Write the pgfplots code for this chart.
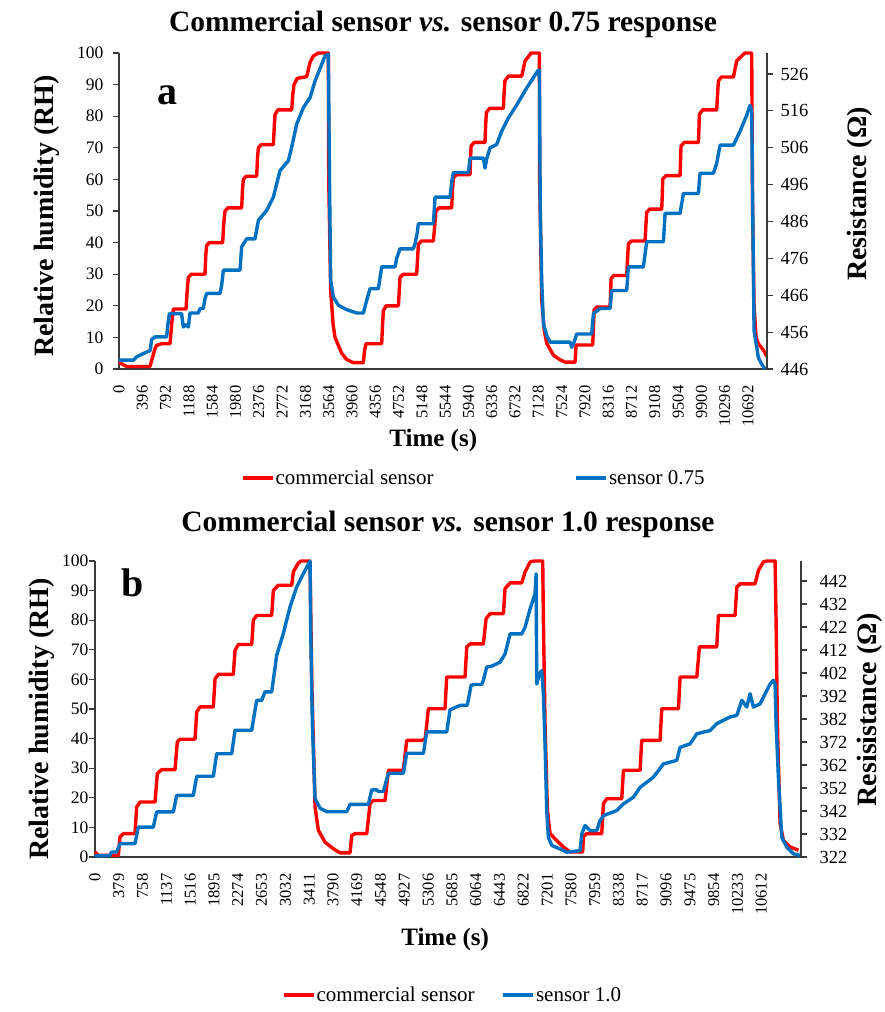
\documentclass[border=0pt]{standalone}
\usepackage{fontspec}
\setmainfont{Liberation Serif}
\usepackage{pgfplots}
\pgfplotsset{compat=1.18}

\definecolor{rhred}{HTML}{FF0000}
\definecolor{resblue}{HTML}{0070C0}
\definecolor{axisgray}{HTML}{3A3A3A}

\pgfplotsset{
  base/.style={
    scale only axis, clip=false, xmin=0, scaled ticks=false,
    axis line style={axisgray, line width=1.2pt},
    tick style={axisgray, line width=1.2pt},
    major tick length=6pt, tick align=outside,
    /pgf/number format/assume math mode=true,
    /pgf/number format/1000 sep={},
    ylabel style={font=\bfseries\fontsize{28}{30}\selectfont, anchor=center},
  },
  leftax/.style={base, ymin=0, ymax=100, ytick={0,10,...,100},
    axis x line*=bottom, axis y line*=left,
    xtick style={draw=none},
    yticklabel style={font=\fontsize{17.5}{18}\selectfont},
    xticklabel shift=7pt,
    xticklabel style={rotate=90, anchor=east, font=\fontsize{16.5}{17}\selectfont},
    xlabel style={font=\bfseries\fontsize{25}{27}\selectfont, anchor=center},
    title style={font=\bfseries\fontsize{29.5}{31}\selectfont, at={(axis description cs:0.5,1)}, anchor=south, inner sep=0pt},
  },
  rightax/.style={base, axis x line=none, axis y line*=right,
    yticklabel style={font=\fontsize{18.5}{19}\selectfont},
    legend style={draw=none, fill=none, anchor=center, legend columns=2,
      font=\fontsize{21}{22}\selectfont, nodes={inner sep=1pt}},
    legend image code/.code={\draw[#1] (0pt,0pt) -- (30pt,0pt);},
  },
  rh/.style={rhred, line width=3.4pt, line join=round},
  res/.style={resblue, line width=3.4pt, line join=round},
}

\begin{document}
\begin{tikzpicture}
\useasboundingbox (0pt,0pt) rectangle (884pt,-1012pt);

% ---------------- panel a ----------------
\begin{axis}[leftax, at={(119pt,-369pt)}, anchor=south west,
  width=648pt, height=316pt, xmax=11015,
  xtick={0,396,...,10692},
  yticklabel style={xshift=-6pt},
  xlabel={Time (s)}, xlabel style={at={(axis description cs:0.485,-0.225)}},
  ylabel={Relative humidity (RH)}, ylabel style={at={(axis description cs:-0.111,0.484)}},
  title={Commercial sensor \textit{vs.} sensor 0.75 response}, title style={yshift=9pt}]
\addplot[rh] coordinates {
(0,2)(60,1.5)(130,0.8)(527,0.8)(560,3)(612,6.5)(640,7.5)(725,8)(867,8)(900,15)(924,19)(1139,19)
(1160,25)(1179,29)(1230,30)(1462,30)(1475,36)(1490,39)(1530,40)(1762,40)(1780,46)(1802,50)
(1850,51)(2085,51)(2100,57)(2114,60)(2160,61)(2340,61)(2355,67)(2369,70)(2420,71)(2624,71)
(2640,77)(2652,80.5)(2700,82)(2935,82)(2955,87)(2975,90)(3030,92)(3190,92.5)(3247,97)(3300,99)
(3389,100)(3559,100)(3565,60)(3598,25)(3640,14)(3672,10)(3785,5)(3870,3)(3984,2)(4154,2)
(4175,6)(4199,8)(4465,8)(4480,14)(4494,18.5)(4540,20)(4749,20)(4765,25)(4777,29)(4830,30)
(5060,30)(5075,35)(5089,39.5)(5140,40.5)(5344,40.5)(5370,46)(5389,50)(5440,51)(5655,51)
(5670,57)(5684,60.5)(5740,61.5)(5967,61.5)(5975,66)(5985,70.6)(6040,71.7)(6222,71.7)(6232,77)
(6245,81.2)(6300,82.5)(6534,82.5)(6545,87)(6560,91.2)(6620,92.7)(6846,92.7)(6902,97.5)
(6987,99.5)(7000,100)(7146,100)(7150,60)(7185,22)(7230,12)(7271,8.1)(7384,4.4)(7497,2.9)
(7582,2.2)(7752,2.2)(7762,5)(7769,7.6)(8052,7.6)(8065,13)(8075,18.6)(8120,19.6)(8347,19.6)
(8357,24)(8364,28.6)(8410,29.6)(8630,29.6)(8645,35)(8659,39.6)(8710,40.5)(8942,40.5)(8955,45)
(8970,49.6)(9020,50.6)(9225,50.6)(9235,55)(9242,60.1)(9300,61.2)(9537,61.2)(9545,66)(9554,70.6)
(9610,71.7)(9849,71.7)(9858,76)(9865,80.6)(9920,82)(10160,82)(10175,87)(10189,91.2)(10240,92.4)
(10444,92.4)(10500,97.5)(10614,99.6)(10640,100)(10755,100)(10770,50)(10795,20)(10830,10)
(10868,8)(10954,6)(11010,4)
};
\node[font=\bfseries\fontsize{40}{42}\selectfont] at (axis description cs:0.0756,0.867) {a};
\end{axis}

\begin{axis}[rightax, at={(119pt,-369pt)}, anchor=south west,
  width=648pt, height=316pt, xmax=11015, ymin=446, ymax=531.7,
  ytick={446,456,...,526},
  yticklabel style={xshift=4pt},
  ylabel={Resistance (Ω)}, ylabel style={at={(axis description cs:1.1435,0.554)}},
  legend style={at={(axis description cs:0.547,-0.345)},
    /tikz/every even column/.append style={column sep=140pt}}]
\addlegendimage{rh}
\addlegendentry{commercial sensor}
\addplot[res] coordinates {
(0,448.4)(244,448.4)(300,449.3)(442,450.4)(530,451)(555,454)(612,454.7)(810,454.7)(830,458)
(856,461)(1065,461)(1080,459)(1094,457.4)(1140,458)(1179,457.4)(1207,461.2)(1349,461.2)
(1377,462.4)(1434,462.4)(1460,465)(1490,466.5)(1717,466.5)(1745,468.7)(1774,472.8)(2057,472.8)
(2085,479.1)(2170,481.3)(2312,481.3)(2369,486.3)(2510,489)(2624,492.6)(2737,499.8)(2879,502.5)
(2935,506.1)(3020,512.4)(3134,516.9)(3247,519.6)(3332,524.1)(3445,528.6)(3502,530.9)
(3559,531.3)(3576,500)(3598,470.1)(3644,465.5)(3729,463.3)(3870,462.1)(4040,461.2)(4154,461.2)
(4210,464.6)(4267,467.8)(4409,467.8)(4465,473.7)(4692,473.7)(4720,476)(4777,478.6)(5003,478.6)
(5032,480)(5070,483)(5089,485.4)(5344,485.4)(5372,492.6)(5627,492.6)(5655,496.6)(5684,499.3)
(5939,499.3)(5967,503.2)(6194,503.2)(6222,500.5)(6250,503)(6307,506)(6420,506.9)(6505,510.5)
(6619,514.1)(6760,517.6)(6930,522.2)(7072,525.7)(7129,527.1)(7146,527)(7160,490)(7185,470)
(7214,458.3)(7271,455.1)(7327,453.3)(7667,453.3)(7695,451.9)(7730,453)(7780,455.5)(8035,455.5)
(8064,461)(8177,462.4)(8347,462.4)(8376,467.3)(8630,467.3)(8659,473.7)(8914,473.7)(8970,480.5)
(9254,480.5)(9282,488.2)(9537,488.2)(9594,493.6)(9849,493.6)(9877,499.1)(10104,499.1)
(10160,501.8)(10217,506.7)(10444,506.7)(10557,510.5)(10670,514.8)(10727,517.5)(10755,516)
(10772,490)(10795,456.4)(10868,449.1)(10925,447.3)(10982,446)
};
\addlegendentry{sensor 0.75}
\end{axis}

% ---------------- panel b ----------------
\begin{axis}[leftax, at={(95pt,-857pt)}, anchor=south west,
  width=706pt, height=296pt, xmax=11245,
  xtick={0,379,...,10612},
  yticklabel style={xshift=3pt},
  xlabel={Time (s)}, xlabel style={at={(axis description cs:0.496,-0.280)}},
  ylabel={Relative humidity (RH)}, ylabel style={at={(axis description cs:-0.075,0.466)}},
  title={Commercial sensor \textit{vs.} sensor 1.0 response}, title style={yshift=17pt}]
\addplot[rh] coordinates {
(0,1.7)(53,0.6)(372,0.6)(398,6.8)(451,7.9)(637,7.9)(664,16.9)(717,18.6)(956,18.6)(993,28.2)
(1062,29.5)(1274,29.5)(1311,38.9)(1354,39.8)(1593,39.8)(1620,49)(1673,50.7)(1885,50.7)
(1912,60.2)(1965,61.7)(2204,61.7)(2230,69.8)(2283,71.8)(2496,71.8)(2522,80)(2575,81.6)
(2814,81.6)(2841,90.1)(2920,91.8)(3133,91.8)(3159,96.3)(3239,99.3)(3280,100)(3425,100)
(3452,60)(3505,16.9)(3558,9)(3664,5)(3797,2.8)(3903,1.4)(4062,1.4)(4089,7.3)(4142,7.9)
(4328,7.9)(4381,18)(4434,19.1)(4620,19.1)(4673,29.3)(4912,29.3)(4965,39.4)(5204,39.4)
(5260,40)(5310,50.1)(5575,50.1)(5602,60.8)(5894,60.8)(5921,71)(5974,72)(6186,72)(6229,80.5)
(6292,82.2)(6505,82.2)(6531,90.7)(6611,92.6)(6797,92.6)(6850,96.3)(6930,99.7)(7000,100)
(7131,100)(7142,80)(7168,45)(7205,16)(7248,7.9)(7354,5.6)(7460,3.4)(7567,1.7)(7768,1.7)
(7779,6.8)(7832,7.9)(8071,7.9)(8098,18)(8151,19.7)(8390,19.7)(8417,29.3)(8682,29.3)
(8708,39.4)(9001,39.4)(9027,50.1)(9293,50.1)(9319,60.8)(9585,60.8)(9627,71)(9903,71)
(9930,81.6)(10195,81.6)(10222,91.2)(10275,92.3)(10514,92.3)(10567,96.8)(10646,99.7)(10700,100)
(10832,100)(10848,80)(10869,45)(10912,11.3)(10965,5.6)(11071,3.4)(11204,2.3)
};
\node[font=\bfseries\fontsize{40}{42}\selectfont] at (axis description cs:0.0538,0.926) {b};
\end{axis}

\begin{axis}[rightax, at={(95pt,-857pt)}, anchor=south west,
  width=706pt, height=296pt, xmax=11245, ymin=322, ymax=450.7,
  ytick={322,332,...,442},
  yticklabel style={xshift=9pt},
  ylabel={Resisistance (Ω)}, ylabel style={at={(axis description cs:1.098,0.497)}},
  legend style={at={(axis description cs:0.506,-0.466)},
    /tikz/every even column/.append style={column sep=26pt}}]
\addlegendimage{rh}
\addlegendentry{commercial sensor}
\addplot[res] coordinates {
(0,322.5)(239,322.7)(266,324.2)(345,324.2)(398,327.8)(637,327.8)(690,335)(929,335)(982,341.6)
(1248,341.6)(1301,348.8)(1566,348.8)(1620,357.1)(1885,357.1)(1938,366.9)(2177,366.9)
(2230,377.1)(2496,377.1)(2575,390.1)(2655,390.1)(2708,393.8)(2814,393.8)(2894,409.7)
(2999,419.1)(3106,430.7)(3212,439.4)(3345,446.6)(3425,450.7)(3436,420)(3462,380)(3505,347.5)
(3585,343.2)(3691,341.7)(4009,341.7)(4062,344.9)(4354,344.9)(4407,351.2)(4487,351.2)
(4514,350.5)(4593,350.5)(4673,358.4)(4912,358.4)(4965,367.1)(5231,367.1)(5284,376.4)
(5602,376.4)(5655,386)(5814,387.9)(5930,388)(5990,396.6)(6027,397)(6160,397)(6186,398.8)
(6239,404.6)(6319,405)(6452,406.7)(6531,410.3)(6611,419)(6797,419)(6850,421.9)(6930,429.9)
(7009,436.4)(7025,445.1)(7036,397.2)(7078,401.6)(7115,403)(7142,392.9)(7168,371.2)(7195,342.2)
(7221,330.6)(7275,327)(7407,325.5)(7513,324.1)(7726,324.8)(7752,332)(7805,335.7)(7885,333.5)
(7991,333.5)(8044,337.8)(8098,340)(8310,342.2)(8417,345.1)(8576,348)(8682,352.3)(8894,356.7)
(9054,362.5)(9266,364)(9319,369.7)(9479,371.2)(9585,375.6)(9797,377)(9903,380)(10116,382.9)
(10222,383.6)(10302,390.1)(10381,387.2)(10434,393)(10487,387.2)(10593,388.6)(10700,394.4)
(10753,397.3)(10806,398.8)(10832,397.3)(10848,380)(10885,356.7)(10938,330.6)(11018,326.3)
(11124,323.4)(11230,322.7)
};
\addlegendentry{sensor 1.0}
\end{axis}
\end{tikzpicture}
\end{document}
